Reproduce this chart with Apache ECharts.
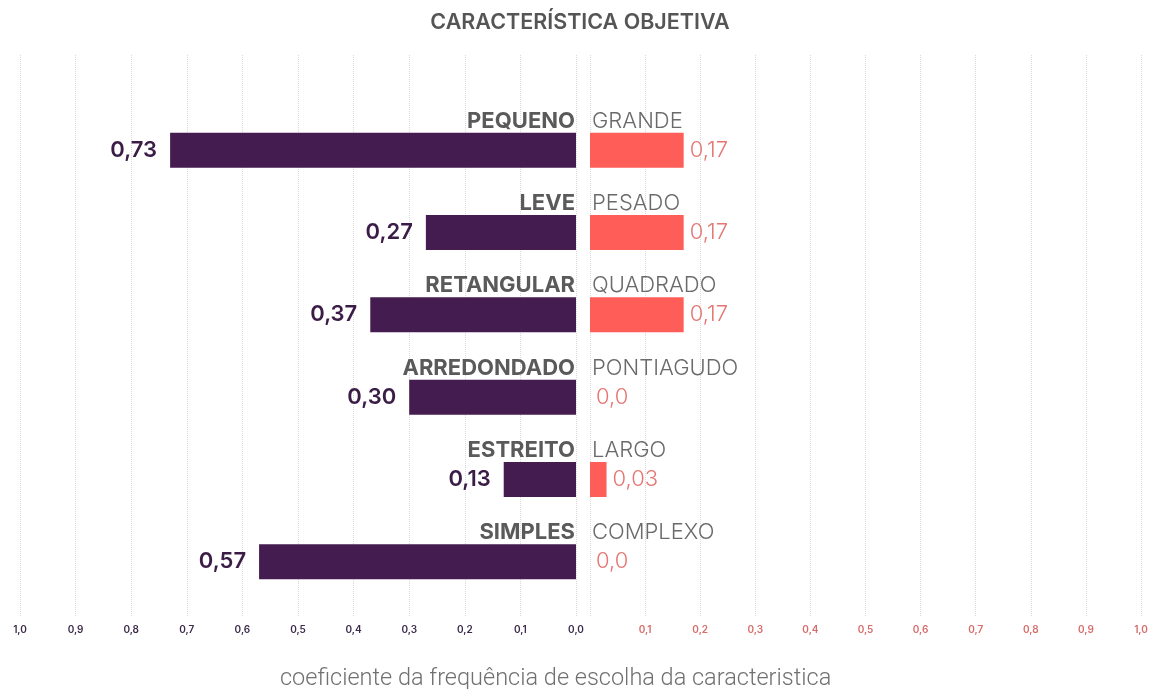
<!DOCTYPE html>
<html>
<head>
<meta charset="utf-8">
<script src="https://cdn.jsdelivr.net/npm/echarts@6/dist/echarts.min.js"></script>
<style>
html,body{margin:0;padding:0;background:#fff;}
#chart{width:1160px;height:689px;}
</style>
</head>
<body>
<div id="chart"></div>
<script>
const titleText = 'CARACTERÍSTICA OBJETIVA';
const axisTitle = 'coeficiente da frequência de escolha da caracteristica';
const leftCategories = ['PEQUENO', 'LEVE', 'RETANGULAR', 'ARREDONDADO', 'ESTREITO', 'SIMPLES'];
const rightCategories = ['GRANDE', 'PESADO', 'QUADRADO', 'PONTIAGUDO', 'LARGO', 'COMPLEXO'];
const leftValues = [0.73, 0.27, 0.37, 0.30, 0.13, 0.57];
const rightValues = [0.17, 0.17, 0.17, 0.0, 0.03, 0.0];
const tickLabels = ['0,0', '0,1', '0,2', '0,3', '0,4', '0,5', '0,6', '0,7', '0,8', '0,9', '1,0'];

const fmtVal = v => v === 0 ? '0,0' : v.toFixed(2).replace('.', ',');
const fmtTick = v => tickLabels[Math.round(v * 10)];

const chart = echarts.init(document.getElementById('chart'), null, {renderer: 'canvas'});

const gridAxisTop = 55, gridAxisBottom = 72;
const barTop = 109, barBottom = 86;

const splitStyle = {show: true, lineStyle: {color: '#d9d9d9', type: 'dotted', width: 1}};

const option = {
  backgroundColor: '#ffffff',
  animation: false,
  title: [
    {text: titleText, left: 'center', top: 7,
     textStyle: {fontFamily: 'Inter', fontWeight: 600, fontSize: 21.5, color: '#555555'}},
    {text: axisTitle, left: 275, top: 662,
     textStyle: {fontFamily: 'Roboto', fontWeight: 300, fontSize: 23.5, color: '#707070'}}
  ],
  grid: [
    {left: 20, right: 584, top: gridAxisTop, bottom: gridAxisBottom},
    {left: 590, right: 19, top: gridAxisTop, bottom: gridAxisBottom},
    {left: 20, right: 584, top: barTop, bottom: barBottom},
    {left: 590, right: 19, top: barTop, bottom: barBottom}
  ],
  xAxis: [
    {gridIndex: 0, type: 'value', inverse: true, min: 0, max: 1, interval: 0.1,
     axisLine: {show: false}, axisTick: {show: false}, splitLine: splitStyle,
     axisLabel: {formatter: fmtTick, margin: 8, fontSize: 10, fontWeight: 600, fontFamily: 'Inter',
       color: v => v === 0 ? '#777777' : '#3b2a4a', padding: [0, 0, 0, 0]}},
    {gridIndex: 1, type: 'value', min: 0, max: 1, interval: 0.1,
     axisLine: {show: false}, axisTick: {show: false}, splitLine: splitStyle,
     axisLabel: {formatter: v => v === 0 ? '' : fmtTick(v), margin: 8, fontSize: 10, fontWeight: 600, fontFamily: 'Inter',
       color: '#d96b6b'}},
    {gridIndex: 2, type: 'value', inverse: true, min: 0, max: 1, show: false},
    {gridIndex: 3, type: 'value', min: 0, max: 1, show: false}
  ],
  yAxis: [
    {gridIndex: 0, type: 'value', show: false},
    {gridIndex: 1, type: 'value', show: false},
    {gridIndex: 2, type: 'category', data: leftCategories, inverse: true, position: 'right',
     axisLine: {show: false}, axisTick: {show: false}, splitLine: {show: false},
     axisLabel: {inside: true, margin: 1, fontFamily: 'Inter', fontWeight: 700, fontSize: 22,
       color: '#5a5a5a', verticalAlign: 'bottom', lineHeight: 24, padding: [0, 0, 17, 0]}},
    {gridIndex: 3, type: 'category', data: rightCategories, inverse: true, position: 'left',
     axisLine: {show: false}, axisTick: {show: false}, splitLine: {show: false},
     axisLabel: {inside: true, margin: 2, fontFamily: 'Inter', fontWeight: 300, fontSize: 22,
       color: '#6a6a6a', verticalAlign: 'bottom', lineHeight: 24, padding: [0, 0, 17, 0]}}
  ],
  series: [
    {type: 'bar', xAxisIndex: 2, yAxisIndex: 2, data: leftValues, barWidth: 35,
     itemStyle: {color: '#441c4f'},
     label: {show: true, position: 'left', distance: 13, formatter: p => fmtVal(p.value),
       fontFamily: 'Inter', fontWeight: 600, fontSize: 22, color: '#3b1c47'}},
    {type: 'bar', xAxisIndex: 3, yAxisIndex: 3, data: rightValues, barWidth: 35,
     itemStyle: {color: '#ff5d58'},
     label: {show: true, position: 'right', distance: 6, formatter: p => fmtVal(p.value),
       fontFamily: 'Inter', fontWeight: 300, fontSize: 22, color: '#e57672'}}
  ]
};
chart.setOption(option);
</script>
</body>
</html>
